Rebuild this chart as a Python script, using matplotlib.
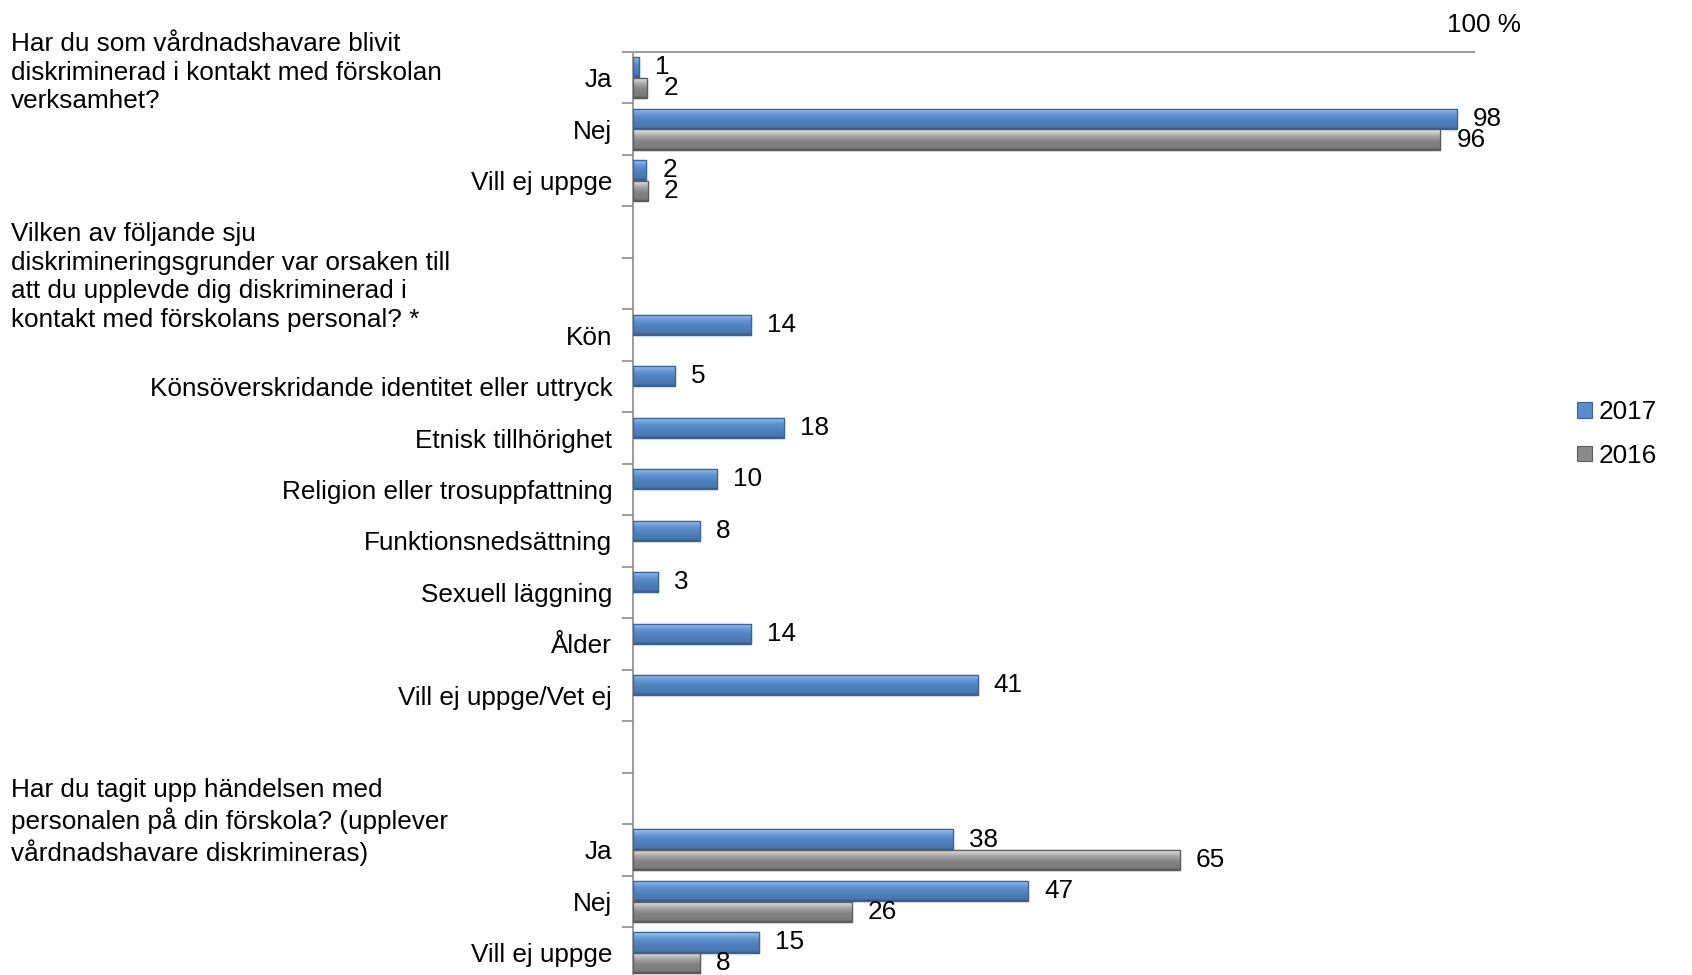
import numpy as np
import matplotlib
matplotlib.use("Agg")
import matplotlib.pyplot as plt
from matplotlib.patches import Rectangle
from matplotlib.colors import LinearSegmentedColormap
import matplotlib.transforms as mtransforms

plt.rcParams['font.family'] = ['Liberation Sans', 'DejaVu Sans']

# ---------------- data ----------------
categories = ["Ja", "Nej", "Vill ej uppge", "", "",
              "Kön", "Könsöverskridande identitet eller uttryck", "Etnisk tillhörighet",
              "Religion eller trosuppfattning", "Funktionsnedsättning", "Sexuell läggning",
              "Ålder", "Vill ej uppge/Vet ej", "", "",
              "Ja", "Nej", "Vill ej uppge"]
nan = np.nan
values_2017 = [0.7, 98, 1.6, nan, nan, 14, 5, 18, 10, 8, 3, 14, 41, nan, nan, 38, 47, 15]
values_2016 = [1.7, 96, 1.8, nan, nan, nan, nan, nan, nan, nan, nan, nan, nan, nan, nan, 65, 26, 8]
series_names = ["2017", "2016"]
questions = [
    "Har du som vårdnadshavare blivit\ndiskriminerad i kontakt med förskolan\nverksamhet?",
    "Vilken av följande sju\ndiskrimineringsgrunder var orsaken till\natt du upplevde dig diskriminerad i\nkontakt med förskolans personal? *",
    "Har du tagit upp händelsen med\npersonalen på din förskola? (upplever\nvårdnadshavare diskrimineras)",
]

# ---------------- style ----------------
FS = 18.8
W, H = 1692, 975
fig = plt.figure(figsize=(W / 100, H / 100), dpi=100)
ax_left, ax_right = 633, 1474
ax_top, ax_bot = 52, 978.5
ax = fig.add_axes([ax_left / W, 1 - ax_bot / H, (ax_right - ax_left) / W, (ax_bot - ax_top) / H])

blue_grad = LinearSegmentedColormap.from_list("b", [
    (0.0, "#aecbf0"), (0.12, "#86b0e6"), (0.35, "#5f90d0"),
    (0.6, "#4f81bd"), (0.9, "#4977b0"), (1.0, "#35598a")])
gray_grad = LinearSegmentedColormap.from_list("g", [
    (0.0, "#eeeeee"), (0.12, "#d2d2d2"), (0.35, "#a2a2a2"),
    (0.6, "#838383"), (0.9, "#7b7b7b"), (1.0, "#555555")])

n = len(categories)
y = np.arange(n)
bh = 0.39
off = 0.2

grad = np.linspace(0, 1, 64).reshape(-1, 1)

def draw_series(vals, ypos, base, edge, cmap):
    v = np.array(vals, dtype=float)
    mask = ~np.isnan(v)
    bars = ax.barh(ypos[mask], v[mask], height=bh, color=base, edgecolor=edge,
                   linewidth=0.9, zorder=3)
    for b, val in zip(bars, v[mask]):
        x0, y0, w, h = b.get_x(), b.get_y(), b.get_width(), b.get_height()
        im = ax.imshow(grad, cmap=cmap, aspect='auto', origin='upper',
                       extent=(x0, x0 + w, y0 + h, y0), zorder=3.5, interpolation='bilinear')
        im.set_clip_path(b)
        ax.add_patch(Rectangle((x0, y0), w, h, fill=False, edgecolor=edge, lw=0.9, zorder=4))
        ax.annotate(f"{val:.0f}", xy=(x0 + w, y0 + h / 2), xytext=(11.5, 0),
                    textcoords='offset points', ha='left', va='center',
                    fontsize=FS, color='black', zorder=5)
    return bars

draw_series(values_2017, y - off, "#4f81bd", "#3b6598", blue_grad)
draw_series(values_2016, y + off, "#808080", "#5c5c5c", gray_grad)

ax.set_xlim(0, 100)
ax.set_ylim(n - 0.5, -0.5)

# y ticks: labels at centres, tick marks at boundaries
ax.set_yticks(y)
ax.set_yticklabels(categories, fontsize=FS)
ax.tick_params(axis='y', which='major', length=0, pad=15)
ax.set_yticks(np.arange(-0.5, n, 1), minor=True)
ax.tick_params(axis='y', which='minor', length=8, width=1.2, color='#8c8c8c', direction='out')

# x axis on top, single 100 % label
ax.xaxis.tick_top()
ax.set_xticks([100])
ax.set_xticklabels(["100 %"], fontsize=FS)
ax.tick_params(axis='x', length=0, pad=11)
shift = mtransforms.ScaledTranslation(10 / 100, 0, fig.dpi_scale_trans)
for lab in ax.get_xticklabels():
    lab.set_transform(lab.get_transform() + shift)

for s in ['right', 'bottom']:
    ax.spines[s].set_visible(False)
ax.spines['left'].set_color('#8c8c8c')
ax.spines['left'].set_linewidth(1.2)
ax.spines['top'].set_color('#a0a0a0')
ax.spines['top'].set_linewidth(1.5)
ax.set_facecolor('none')

# question texts
q_tops = [43, 233, 789]
for q, t in zip(questions, q_tops):
    fig.text(11 / W, 1 - (t - 11) / H, q, ha='left', va='top', fontsize=FS,
             linespacing=1.24)

# legend
handles = [Rectangle((0, 0), 1, 1, facecolor="#5b8ccc", edgecolor="#3b6598", lw=0.8),
           Rectangle((0, 0), 1, 1, facecolor="#8a8a8a", edgecolor="#5c5c5c", lw=0.8)]
fig.legend(handles, series_names, loc='center left',
           bbox_to_anchor=(1567 / W, 1 - 434 / H), frameon=False, fontsize=FS,
           handlelength=0.55, handleheight=0.55, handletextpad=0.25, labelspacing=0.75,
           borderaxespad=0)

fig.savefig("out.png", dpi=100)
